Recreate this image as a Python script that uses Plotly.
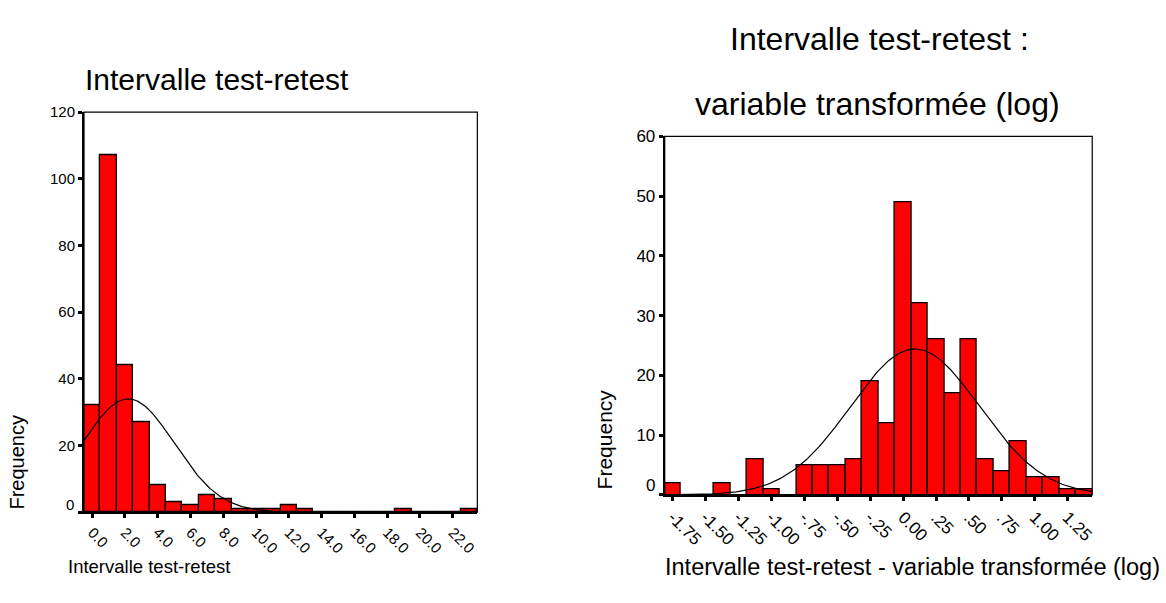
import numpy as np
import plotly.graph_objects as go

# ---------------- data ----------------
left_centers = list(range(0, 24))  # bin centers (bin width 1.0)
left_counts = [32, 107, 44, 27, 8, 3, 2, 5, 4, 1, 1, 1, 2, 1, 0, 0, 0, 0, 0, 1, 0, 0, 0, 1]
left_binwidth = 1.0
left_tickvals = [0, 2, 4, 6, 8, 10, 12, 14, 16, 18, 20, 22]
left_ticktext = ["0.0", "2.0", "4.0", "6.0", "8.0", "10.0", "12.0", "14.0", "16.0", "18.0", "20.0", "22.0"]
left_yticks = [0, 20, 40, 60, 80, 100, 120]
left_mean, left_sd = 2.2, 2.82

right_centers = [-1.75 + 0.125 * i for i in range(26)]  # bin width 0.125
right_counts = [2, 0, 0, 2, 0, 6, 1, 0, 5, 5, 5, 6, 19, 12, 49, 32, 26, 17, 26, 6, 4, 9, 3, 3, 1, 1]
right_binwidth = 0.125
right_tickvals = [-1.75, -1.5, -1.25, -1.0, -0.75, -0.5, -0.25, 0.0, 0.25, 0.5, 0.75, 1.0, 1.25]
right_ticktext = ["-1.75", "-1.50", "-1.25", "-1.00", "-.75", "-.50", "-.25", "0.00", ".25", ".50", ".75", "1.00", "1.25"]
right_yticks = [0, 10, 20, 30, 40, 50, 60]
right_mean, right_sd = 0.09, 0.49

W, H = 1166, 603
FONT = "Arial, Liberation Sans, sans-serif"


def normal_curve(centers, counts, width, mean, sd):
    n = sum(counts)
    xs = np.linspace(centers[0] - width / 2, centers[-1] + width / 2, 300)
    ys = n * width / (sd * np.sqrt(2 * np.pi)) * np.exp(-0.5 * ((xs - mean) / sd) ** 2)
    return xs, ys


fig = go.Figure()

# left histogram
fig.add_trace(go.Bar(x=left_centers, y=left_counts, width=left_binwidth,
                     marker=dict(color="#FF0000", line=dict(color="black", width=1.3)),
                     xaxis="x", yaxis="y", showlegend=False, hoverinfo="skip"))
lx, ly = normal_curve(left_centers, left_counts, left_binwidth, left_mean, left_sd)
fig.add_trace(go.Scatter(x=lx, y=ly, mode="lines", line=dict(color="black", width=1.2),
                         xaxis="x", yaxis="y", showlegend=False, hoverinfo="skip"))

# right histogram
fig.add_trace(go.Bar(x=right_centers, y=right_counts, width=right_binwidth,
                     marker=dict(color="#FF0000", line=dict(color="black", width=1.3)),
                     xaxis="x2", yaxis="y2", showlegend=False, hoverinfo="skip"))
rx, ry = normal_curve(right_centers, right_counts, right_binwidth, right_mean, right_sd)
fig.add_trace(go.Scatter(x=rx, y=ry, mode="lines", line=dict(color="black", width=1.2),
                         xaxis="x2", yaxis="y2", showlegend=False, hoverinfo="skip"))


def px_x(p):
    return p / W


def px_y(p):
    return 1 - p / H


axis_common = dict(showgrid=False, zeroline=False, showline=True, linecolor="black", linewidth=2,
                   ticks="outside", ticklen=4, tickwidth=3, tickcolor="black")

# the "0" label is drawn slightly raised (as in the original), so it is blank on the axis
left_ytext = ["" if v == 0 else str(v) for v in left_yticks]
right_ytext = ["" if v == 0 else str(v) for v in right_yticks]

fig.update_layout(
    width=W, height=H, margin=dict(l=0, r=0, t=0, b=0),
    paper_bgcolor="white", plot_bgcolor="white",
    bargap=0, font=dict(family=FONT, color="black"),
    xaxis=dict(domain=[px_x(83.3), px_x(478)], range=[-0.5, 23.5], anchor="y",
               tickvals=left_tickvals, ticktext=left_ticktext, tickangle=45,
               tickfont=dict(size=15, family=FONT), **axis_common),
    yaxis=dict(domain=[px_y(510.7), px_y(104.7)], range=[0, 120], anchor="x",
               tickvals=left_yticks, ticktext=left_ytext, tickfont=dict(size=15, family=FONT),
               **axis_common),
    xaxis2=dict(domain=[px_x(666), px_x(1095)], range=[-1.8125, 1.4375], anchor="y2",
                tickvals=right_tickvals, ticktext=right_ticktext, tickangle=45,
                tickfont=dict(size=17, family=FONT), **axis_common),
    yaxis2=dict(domain=[px_y(493.3), px_y(129.3)], range=[0, 60], anchor="x2",
                tickvals=right_yticks, ticktext=right_ytext, tickfont=dict(size=17, family=FONT),
                **axis_common),
)

# thin frame (top / right borders)
for xr, yr in [("x domain", "y domain"), ("x2 domain", "y2 domain")]:
    fig.add_shape(type="rect", xref=xr, yref=yr, x0=0, x1=1, y0=0, y1=1,
                  line=dict(color="black", width=1.2), fillcolor="rgba(0,0,0,0)")

# raised zero labels
fig.add_annotation(text="0", x=0, y=0, xref="x domain", yref="y", xanchor="right", yanchor="middle",
                   xshift=-8, yshift=8, showarrow=False, font=dict(size=15, family=FONT, color="black"))
fig.add_annotation(text="0", x=0, y=0, xref="x2 domain", yref="y2", xanchor="right", yanchor="middle",
                   xshift=-8, yshift=9, showarrow=False, font=dict(size=17, family=FONT, color="black"))

annots = [
    dict(text="Intervalle test-retest", x=px_x(217), y=px_y(72), size=30),
    dict(text="Intervalle test-retest :", x=px_x(882), y=px_y(30), size=32),
    dict(text="variable transformée (log)", x=px_x(880), y=px_y(96), size=32),
    dict(text="Intervalle test-retest", x=px_x(149), y=px_y(566), size=18.5),
    dict(text="Intervalle test-retest - variable transformée (log)", x=px_x(915), y=px_y(566), size=23.5),
]
for a in annots:
    fig.add_annotation(text=a["text"], x=a["x"], y=a["y"], xref="paper", yref="paper",
                       xanchor="center", yanchor="middle", showarrow=False,
                       font=dict(size=a["size"], family=FONT, color="black"))

for x, y, s in [(16.5, 460, 20), (606, 437, 21)]:
    fig.add_annotation(text="Frequency", x=px_x(x), y=px_y(y), xref="paper", yref="paper",
                       xanchor="center", yanchor="middle", showarrow=False, textangle=-90,
                       font=dict(size=s, family=FONT, color="black"))

fig.write_html("out.html", config={"displayModeBar": False},
               post_script="document.body.style.margin='0';document.body.style.overflow='hidden';")
